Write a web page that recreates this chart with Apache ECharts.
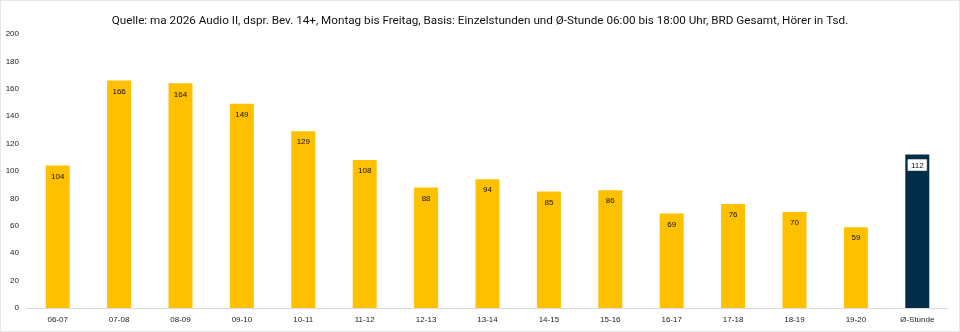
<!DOCTYPE html>
<html>
<head>
<meta charset="utf-8">
<script src="https://cdn.jsdelivr.net/npm/echarts@6/dist/echarts.min.js"></script>
<style>
  html, body { margin: 0; padding: 0; background: #fff; }
  #chart { width: 960px; height: 332px; box-sizing: border-box; border: 1px solid #e6e6e6; }
</style>
</head>
<body>
<div id="chart"></div>
<script>
var categories = ["06-07", "07-08", "08-09", "09-10", "10-11", "11-12", "12-13", "13-14", "14-15", "15-16", "16-17", "17-18", "18-19", "19-20", "Ø-Stunde"];
var values = [104, 166, 164, 149, 129, 108, 88, 94, 85, 86, 69, 76, 70, 59, 112];
var yTicks = [0, 20, 40, 60, 80, 100, 120, 140, 160, 180, 200];
var titleText = "Quelle: ma 2026 Audio II, dspr. Bev. 14+, Montag bis Freitag, Basis: Einzelstunden und Ø-Stunde 06:00 bis 18:00 Uhr, BRD Gesamt, Hörer in Tsd.";

(function () {
  var myChart = echarts.init(document.getElementById("chart"));
  var lastIdx = values.length - 1;

  var option = {
    animation: false,
    title: {
      text: titleText,
      left: "center",
      top: 9,
      textStyle: {
        fontFamily: "Roboto",
        fontWeight: "normal",
        fontSize: 11.7,
        color: "#111"
      }
    },
    grid: {
      left: 26,
      right: 11,
      top: 33,
      bottom: 23
    },
    xAxis: {
      type: "category",
      data: categories,
      axisTick: { show: false },
      axisLine: { lineStyle: { color: "#d9d9d9", width: 1 } },
      axisLabel: {
        color: "#222",
        fontFamily: "Liberation Sans",
        fontSize: 8,
        margin: 8
      }
    },
    yAxis: {
      type: "value",
      min: yTicks[0],
      max: yTicks[yTicks.length - 1],
      interval: 20,
      splitLine: { show: false },
      axisLine: { show: false },
      axisTick: { show: false },
      axisLabel: {
        color: "#222",
        fontFamily: "Liberation Sans",
        fontSize: 8,
        margin: 8
      }
    },
    series: [
      {
        type: "bar",
        barWidth: 24,
        data: values.map(function (v, i) {
          if (i === lastIdx) {
            return {
              value: v,
              itemStyle: { color: "#002d48" },
              label: {
                backgroundColor: "#fff",
                padding: [2, 3, 1, 3],
                borderColor: "#999",
                borderWidth: 0.5,
                distance: 5
              }
            };
          }
          return v;
        }),
        itemStyle: { color: "#ffc000" },
        label: {
          show: true,
          position: "insideTop",
          distance: 7,
          color: "#111",
          fontFamily: "Liberation Sans",
          fontSize: 8
        }
      }
    ]
  };

  myChart.setOption(option);
})();
</script>
</body>
</html>
